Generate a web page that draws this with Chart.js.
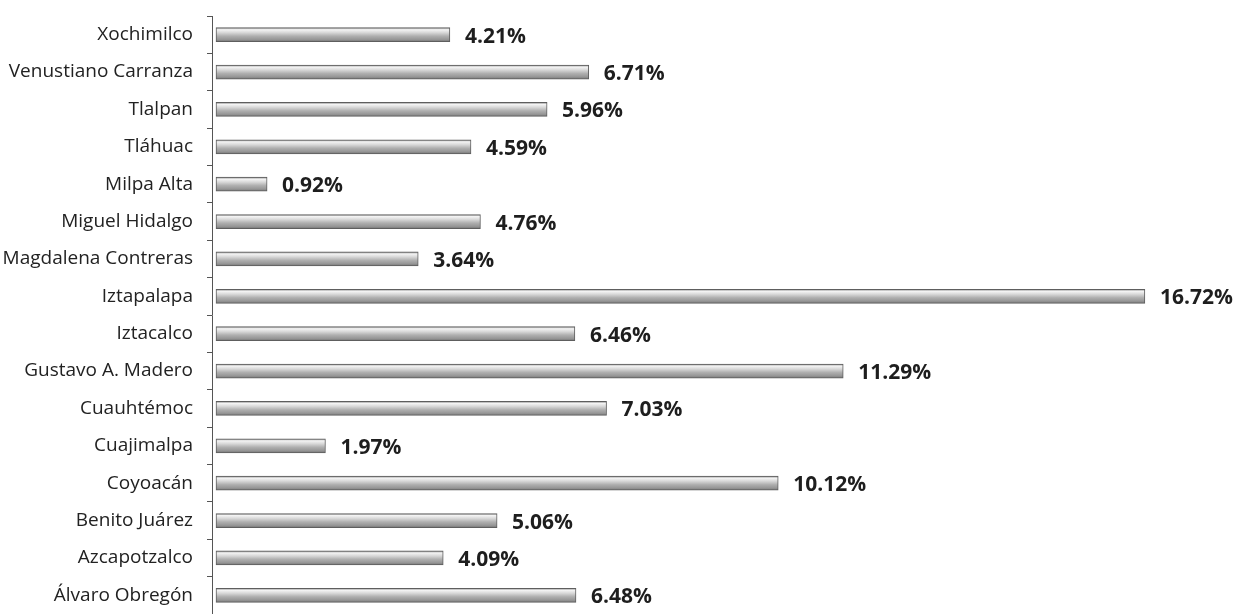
<!DOCTYPE html>
<html>
<head>
<meta charset="utf-8">
<script src="https://cdn.jsdelivr.net/npm/chart.js@4"></script>
<style>
  html, body { margin: 0; padding: 0; background: #fff; overflow: hidden; }
  #wrap { width: 1240px; height: 614px; }
</style>
</head>
<body>
<div id="wrap"><canvas id="chart-area" width="1240" height="614"></canvas></div>
<script>
// delegaciones, de arriba hacia abajo como en la imagen
var delegaciones = [
  'Xochimilco', 'Venustiano Carranza', 'Tlalpan', 'Tláhuac', 'Milpa Alta',
  'Miguel Hidalgo', 'Magdalena Contreras', 'Iztapalapa', 'Iztacalco',
  'Gustavo A. Madero', 'Cuauhtémoc', 'Cuajimalpa', 'Coyoacán',
  'Benito Juárez', 'Azcapotzalco', 'Álvaro Obregón'
];
var porcentajes = [
  4.21, 6.71, 5.96, 4.59, 0.92,
  4.76, 3.64, 16.72, 6.46,
  11.29, 7.03, 1.97, 10.12,
  5.06, 4.09, 6.48
];
var etiquetas = [
  '4.21%', '6.71%', '5.96%', '4.59%', '0.92%',
  '4.76%', '3.64%', '16.72%', '6.46%',
  '11.29%', '7.03%', '1.97%', '10.12%',
  '5.06%', '4.09%', '6.48%'
];

// relleno tipo cilindro gris
var rellenoBarra = function(c) {
  var chart = c.chart;
  var ys = chart.scales.y;
  if (!ys || !chart.chartArea) return '#a8a8a8';
  var yc = ys.getPixelForValue(c.dataIndex);
  var g = chart.ctx.createLinearGradient(0, yc - 7, 0, yc + 7);
  g.addColorStop(0, '#858585');
  g.addColorStop(0.14, '#f4f4f4');
  g.addColorStop(0.35, '#d8d8d8');
  g.addColorStop(0.6, '#afafaf');
  g.addColorStop(0.85, '#959595');
  g.addColorStop(1, '#747474');
  return g;
};

var valoresPlugin = {
  id: 'valores',
  afterDatasetsDraw: function(chart) {
    var ctx = chart.ctx;
    var meta = chart.getDatasetMeta(0);
    ctx.save();
    ctx.font = 'bold 21px "Open Sans"';
    ctx.fillStyle = '#1e1e1e';
    ctx.textAlign = 'left';
    ctx.textBaseline = 'middle';
    meta.data.forEach(function(bar, i) {
      ctx.fillText(etiquetas[i], bar.x + 15, bar.y + 2);
    });
    ctx.restore();
  }
};

var config = {
  type: 'bar',
  data: {
    labels: delegaciones,
    datasets: [{
      data: porcentajes,
      backgroundColor: rellenoBarra,
      borderColor: '#5e5e5e',
      borderWidth: 1,
      borderSkipped: false,
      barThickness: 14
    }]
  },
  options: {
    indexAxis: 'y',
    responsive: false,
    animation: false,
    layout: { padding: { top: 16, right: 24, bottom: 0, left: 0 } },
    plugins: {
      legend: { display: false },
      tooltip: { enabled: false }
    },
    scales: {
      x: {
        display: false,
        min: -0.072,
        max: 18
      },
      y: {
        afterFit: function(scale) {
          scale.width = 212;
          scale.paddingTop = 0;
          scale.paddingBottom = 0;
        },
        border: { display: true, color: '#555', width: 1 },
        grid: {
          offset: true,
          drawOnChartArea: false,
          drawTicks: true,
          tickLength: 5,
          color: '#555'
        },
        ticks: {
          padding: 14,
          color: '#222',
          font: { family: '"Open Sans"', size: 19 }
        }
      }
    }
  },
  plugins: [valoresPlugin]
};

var ctx = document.getElementById('chart-area').getContext('2d');
window.myBar = new Chart(ctx, config);
</script>
</body>
</html>
